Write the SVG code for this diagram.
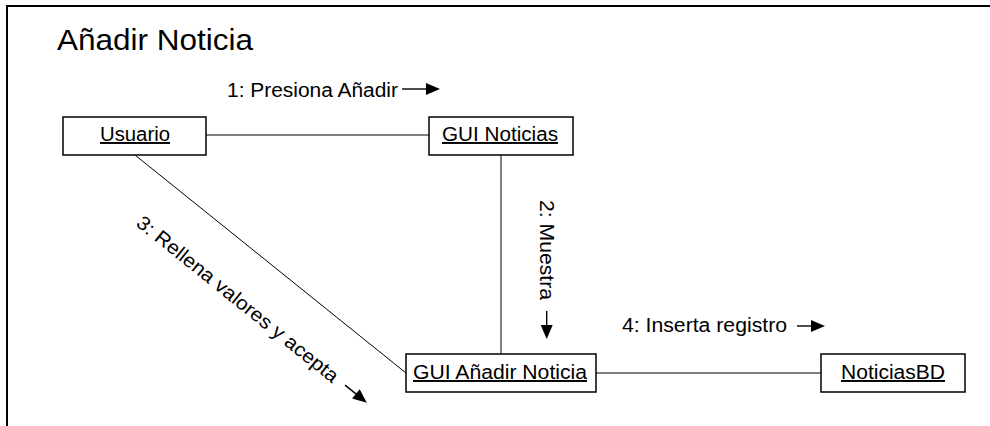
<svg xmlns="http://www.w3.org/2000/svg" width="990" height="426" viewBox="0 0 990 426">
  <style>
    .frame { fill: none; stroke: #000; stroke-width: 2; }
    .obj rect { fill: #fff; stroke: #000; stroke-width: 1.5; }
    .obj text { font-family: "Liberation Sans", Arial, sans-serif; font-size: 19.5px; fill: #000; text-decoration: underline; }
    .lbl { font-family: "Liberation Sans", Arial, sans-serif; font-size: 19.5px; fill: #000; }
    .title { font-family: "Liberation Sans", Arial, sans-serif; font-size: 30px; fill: #000; }
    .link { stroke: #000; stroke-width: 1; fill: none; }
    .shaft { stroke: #000; stroke-width: 1.4; }
    .head { fill: #000; }
  </style>
  <defs>
    <!-- message direction arrow: short shaft with filled head, drawn along +x -->
    <g id="arrow28">
      <line class="shaft" x1="0" y1="0" x2="16" y2="0"/>
      <polygon class="head" points="14,-6 28,0 14,6"/>
    </g>
    <g id="arrow38">
      <line class="shaft" x1="0" y1="0" x2="26" y2="0"/>
      <polygon class="head" points="24,-6 38,0 24,6"/>
    </g>
  </defs>

  <rect width="990" height="426" fill="#fff"/>
  <!-- diagram frame (open to the right and bottom) -->
  <polyline class="frame" points="7,426 7,6 990,6"/>
  <text class="title" x="57" y="50" textLength="196" lengthAdjust="spacingAndGlyphs">Añadir Noticia</text>

  <!-- links between objects -->
  <g id="connectors">
    <line class="link" x1="206" y1="135" x2="429" y2="135"/>
    <line class="link" x1="501" y1="155" x2="501" y2="354"/>
    <line class="link" x1="135" y1="155" x2="406" y2="373"/>
    <line class="link" x1="596" y1="373" x2="821" y2="373"/>

    <!-- messages -->
    <g class="msg">
      <text class="lbl" x="227" y="97" textLength="171" lengthAdjust="spacingAndGlyphs">1: Presiona Añadir</text>
      <use href="#arrow38" x="402" y="89"/>
    </g>
    <g class="msg" transform="translate(540,200) rotate(90)">
      <text class="lbl" x="0" y="0" textLength="100" lengthAdjust="spacingAndGlyphs">2: Muestra</text>
      <use href="#arrow28" x="111" y="-6.7"/>
    </g>
    <g class="msg" transform="translate(135,225) rotate(38.8)">
      <text class="lbl" x="0" y="0" textLength="253" lengthAdjust="spacingAndGlyphs">3: Rellena valores y acepta</text>
      <use href="#arrow28" x="264" y="-6.8"/>
    </g>
    <g class="msg">
      <text class="lbl" x="622" y="332" textLength="165" lengthAdjust="spacingAndGlyphs">4: Inserta registro</text>
      <use href="#arrow28" x="797" y="326"/>
    </g>
  </g>

  <!-- objects -->
  <g id="usuario" class="obj">
    <rect x="63" y="117" width="143" height="38"/>
    <text x="100" y="141" textLength="70" lengthAdjust="spacingAndGlyphs">Usuario</text>
  </g>
  <g id="gui-noticias" class="obj">
    <rect x="429" y="117" width="144" height="38"/>
    <text x="442" y="141" textLength="116" lengthAdjust="spacingAndGlyphs">GUI Noticias</text>
  </g>
  <g id="gui-anadir-noticia" class="obj">
    <rect x="406" y="354" width="190" height="38"/>
    <text x="413" y="379" textLength="174" lengthAdjust="spacingAndGlyphs">GUI Añadir Noticia</text>
  </g>
  <g id="noticias-bd" class="obj">
    <rect x="821" y="354" width="144" height="38"/>
    <text x="841" y="379" textLength="104" lengthAdjust="spacingAndGlyphs">NoticiasBD</text>
  </g>
</svg>
